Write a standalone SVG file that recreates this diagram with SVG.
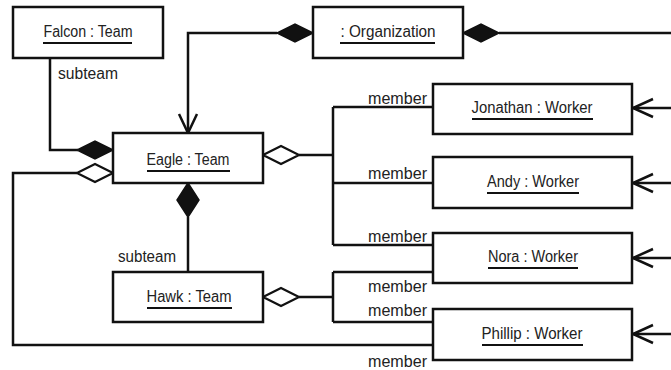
<svg xmlns="http://www.w3.org/2000/svg" width="671" height="370" viewBox="0 0 671 370">
<style>
.box{fill:#fff;stroke:#111;stroke-width:2.5}
.name{font-family:"Liberation Sans",Arial,sans-serif;font-size:16px;fill:#222;text-anchor:middle}
.ul{stroke:#111;stroke-width:2}
.lbl{font-family:"Liberation Sans",Arial,sans-serif;font-size:16px;fill:#222}
.ln{fill:none;stroke:#111;stroke-width:2.5}
.fd{fill:#111;stroke:#111;stroke-width:1.5}
.od{fill:#fff;stroke:#111;stroke-width:2.2}
.ah{fill:none;stroke:#111;stroke-width:2.5}
</style>
<rect width="671" height="370" fill="#fff"/>
<g id="connectors">
  <path class="ln" d="M277,33 H188 V133"/>
  <path class="ah" d="M179,114 L188,133 L197,114"/>
  <polygon class="fd" points="313,33 295,24 277,33 295,42"/>
  <path class="ln" d="M499,33 H671"/>
  <polygon class="fd" points="463,33 481,24 499,33 481,42"/>
  <path class="ln" d="M50,58 V150 H78"/>
  <polygon class="fd" points="113,150 95,141 77,150 95,159"/>
  <path class="ln" d="M77,173 H13 V345 H433"/>
  <polygon class="od" points="113,173 95,164 77,173 95,182"/>
  <path class="ln" d="M299,155 H333 M333,107 V245 M333,107 H433 M333,183 H433 M333,245 H433"/>
  <polygon class="od" points="263,155 281,146 299,155 281,164"/>
  <path class="ln" d="M188,217 V272"/>
  <polygon class="fd" points="188,183 199,200 188,217 177,200"/>
  <path class="ln" d="M299,297 H333 M333,272 V322 M333,272 H433 M333,322 H433"/>
  <polygon class="od" points="263,297 281,288 299,297 281,306"/>
  <path class="ln" d="M632,108 H671 M632,183 H671 M632,258 H671 M632,334 H671"/>
  <path class="ah" d="M653,99 L633,108 L653,117 M653,174 L633,183 L653,192 M653,249 L633,258 L653,267 M653,325 L633,334 L653,343"/>
  <text class="lbl" x="58" y="79" textLength="60" lengthAdjust="spacingAndGlyphs">subteam</text>
  <text class="lbl" x="118" y="262" textLength="58" lengthAdjust="spacingAndGlyphs">subteam</text>
  <text class="lbl" x="368" y="104" textLength="59" lengthAdjust="spacingAndGlyphs">member</text>
  <text class="lbl" x="368" y="179" textLength="59" lengthAdjust="spacingAndGlyphs">member</text>
  <text class="lbl" x="368" y="242" textLength="59" lengthAdjust="spacingAndGlyphs">member</text>
  <text class="lbl" x="368" y="292" textLength="59" lengthAdjust="spacingAndGlyphs">member</text>
  <text class="lbl" x="368" y="316" textLength="59" lengthAdjust="spacingAndGlyphs">member</text>
  <text class="lbl" x="368" y="367" textLength="59" lengthAdjust="spacingAndGlyphs">member</text>
</g>
<g id="falcon">
  <rect class="box" x="13" y="7" width="150" height="51"/>
  <text class="name" x="88" y="37" textLength="89" lengthAdjust="spacingAndGlyphs">Falcon : Team</text>
  <line class="ul" x1="43" y1="43" x2="132" y2="43"/>
</g>
<g id="organization">
  <rect class="box" x="313" y="7" width="150" height="51"/>
  <text class="name" x="388" y="37" textLength="95" lengthAdjust="spacingAndGlyphs">: Organization</text>
  <line class="ul" x1="340" y1="43" x2="435" y2="43"/>
</g>
<g id="eagle">
  <rect class="box" x="113" y="133" width="150" height="50"/>
  <text class="name" x="188" y="165" textLength="83" lengthAdjust="spacingAndGlyphs">Eagle : Team</text>
  <line class="ul" x1="147" y1="171" x2="230" y2="171"/>
</g>
<g id="hawk">
  <rect class="box" x="113" y="272" width="150" height="50"/>
  <text class="name" x="189" y="302" textLength="85" lengthAdjust="spacingAndGlyphs">Hawk : Team</text>
  <line class="ul" x1="147" y1="308" x2="232" y2="308"/>
</g>
<g id="jonathan">
  <rect class="box" x="433" y="84" width="199" height="50"/>
  <text class="name" x="532" y="113" textLength="121" lengthAdjust="spacingAndGlyphs">Jonathan : Worker</text>
  <line class="ul" x1="472" y1="119" x2="593" y2="119"/>
</g>
<g id="andy">
  <rect class="box" x="433" y="157" width="199" height="51"/>
  <text class="name" x="533" y="187" textLength="92" lengthAdjust="spacingAndGlyphs">Andy : Worker</text>
  <line class="ul" x1="487" y1="193" x2="579" y2="193"/>
</g>
<g id="nora">
  <rect class="box" x="433" y="233" width="199" height="50"/>
  <text class="name" x="533" y="262" textLength="90" lengthAdjust="spacingAndGlyphs">Nora : Worker</text>
  <line class="ul" x1="488" y1="268" x2="578" y2="268"/>
</g>
<g id="phillip">
  <rect class="box" x="433" y="309" width="199" height="51"/>
  <text class="name" x="532" y="339" textLength="101" lengthAdjust="spacingAndGlyphs">Phillip : Worker</text>
  <line class="ul" x1="482" y1="345" x2="583" y2="345"/>
</g>
</svg>
